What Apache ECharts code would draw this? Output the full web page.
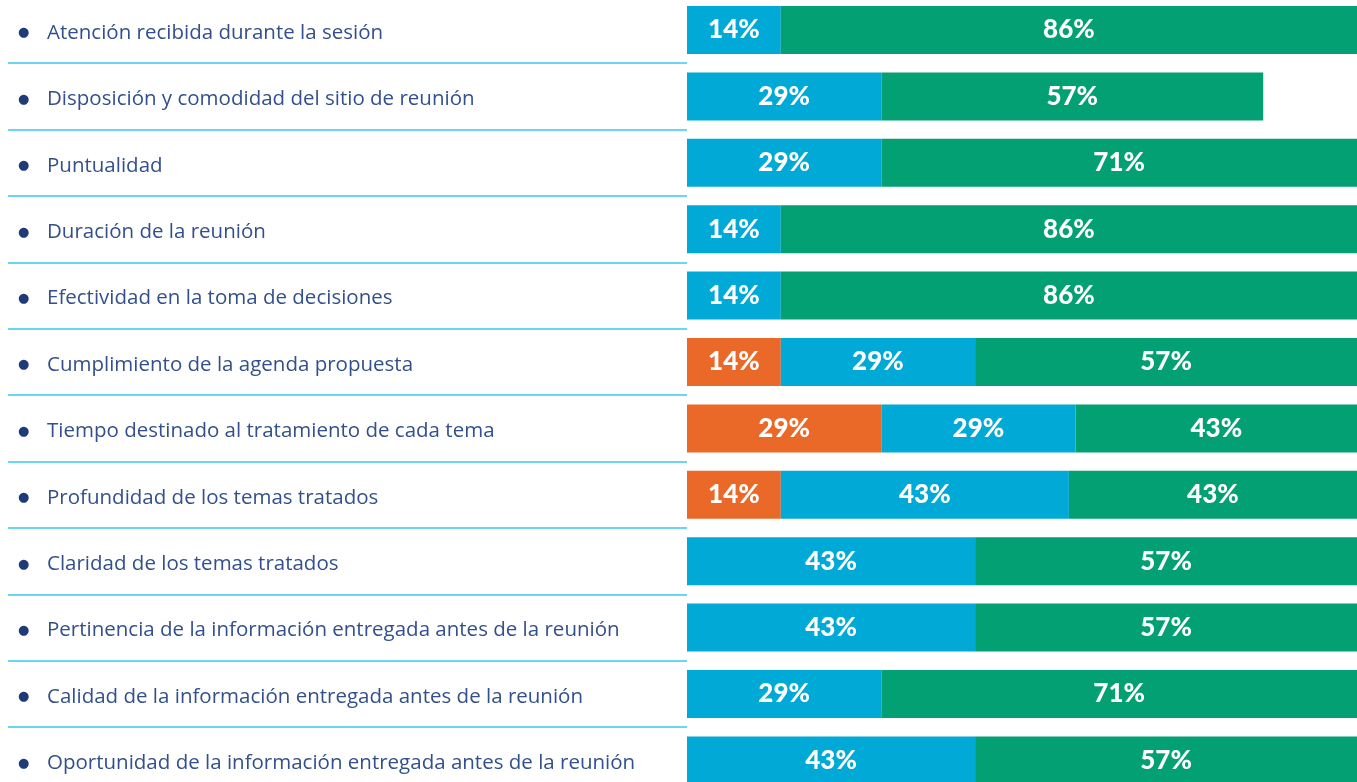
<!DOCTYPE html>
<html>
<head>
<meta charset="utf-8">
<script src="https://cdn.jsdelivr.net/npm/echarts@6/dist/echarts.min.js"></script>
<style>
  html, body { margin: 0; padding: 0; background: #ffffff; }
  #chart { width: 1357px; height: 782px; }
</style>
</head>
<body>
<div id="chart"></div>
<script>
// Evaluation of meeting aspects: stacked share per answer level (percent).
const categories = [
  'Atención recibida durante la sesión',
  'Disposición y comodidad del sitio de reunión',
  'Puntualidad',
  'Duración de la reunión',
  'Efectividad en la toma de decisiones',
  'Cumplimiento de la agenda propuesta',
  'Tiempo destinado al tratamiento de cada tema',
  'Profundidad de los temas tratados',
  'Claridad de los temas tratados',
  'Pertinencia de la información entregada antes de la reunión',
  'Calidad de la información entregada antes de la reunión',
  'Oportunidad de la información entregada antes de la reunión',
];
const orangeVals = [0, 0, 0, 0, 0, 14, 29, 14, 0, 0, 0, 0];
const blueVals   = [14, 29, 29, 14, 14, 29, 29, 43, 43, 43, 29, 43];
const greenVals  = [86, 57, 71, 86, 86, 57, 43, 43, 57, 57, 71, 57];

const C = {
  orange: '#ea6928',
  blue:   '#00a9d6',
  green:  '#03a074',
  text:   '#33508c',
  bullet: '#1f3a78',
  sep:    '#3cc6f0',
};
const FONT = 'Lato, "Noto Sans", sans-serif';
const LABEL_FONT = '"Open Sans", "Noto Sans", sans-serif';

// rows are 66.4px apart; the last row runs off the bottom of the picture
const TOP = -3.2, H = 796.8, SPLIT = 687;

function bar(name, data, color) {
  return {
    name, type: 'bar', stack: 'all', data,
    xAxisIndex: 1, yAxisIndex: 1,
    barWidth: 48,
    itemStyle: { color },
    label: {
      show: true, position: 'inside', color: '#ffffff',
      fontFamily: FONT, fontSize: 26, fontWeight: 900,
      formatter: (p) => p.value ? p.value + '%' : '',
    },
  };
}

const chart = echarts.init(document.getElementById('chart'));
chart.setOption({
  animation: false,
  grid: [
    { left: 8, top: TOP, width: SPLIT - 8, height: H, outerBoundsMode: 'none' },
    { left: SPLIT, top: TOP, right: 0, height: H, outerBoundsMode: 'none' },
  ],
  xAxis: [
    { gridIndex: 0, type: 'value', show: false },
    { gridIndex: 1, type: 'value', min: 0, max: 100, show: false },
  ],
  yAxis: [
    {
      gridIndex: 0, type: 'category', data: categories, inverse: true,
      axisLine: { show: false }, axisTick: { show: false },
      splitLine: { show: true, interval: 0, lineStyle: { color: C.sep, width: 1.5 } },
      axisLabel: {
        inside: true, margin: 10, interval: 0, padding: [6, 0, 0, 0],
        formatter: (v) => '{b|●}{t|' + v + '}',
        rich: {
          b: { width: 29, fontSize: 13, color: C.bullet, fontFamily: 'DejaVu Sans' },
          t: { fontSize: 20.5, color: C.text, fontFamily: LABEL_FONT },
        },
      },
    },
    {
      gridIndex: 1, type: 'category', data: categories, inverse: true, show: false,
    },
  ],
  series: [
    bar('orange', orangeVals, C.orange),
    bar('blue', blueVals, C.blue),
    bar('green', greenVals, C.green),
  ],
});
</script>
</body>
</html>
